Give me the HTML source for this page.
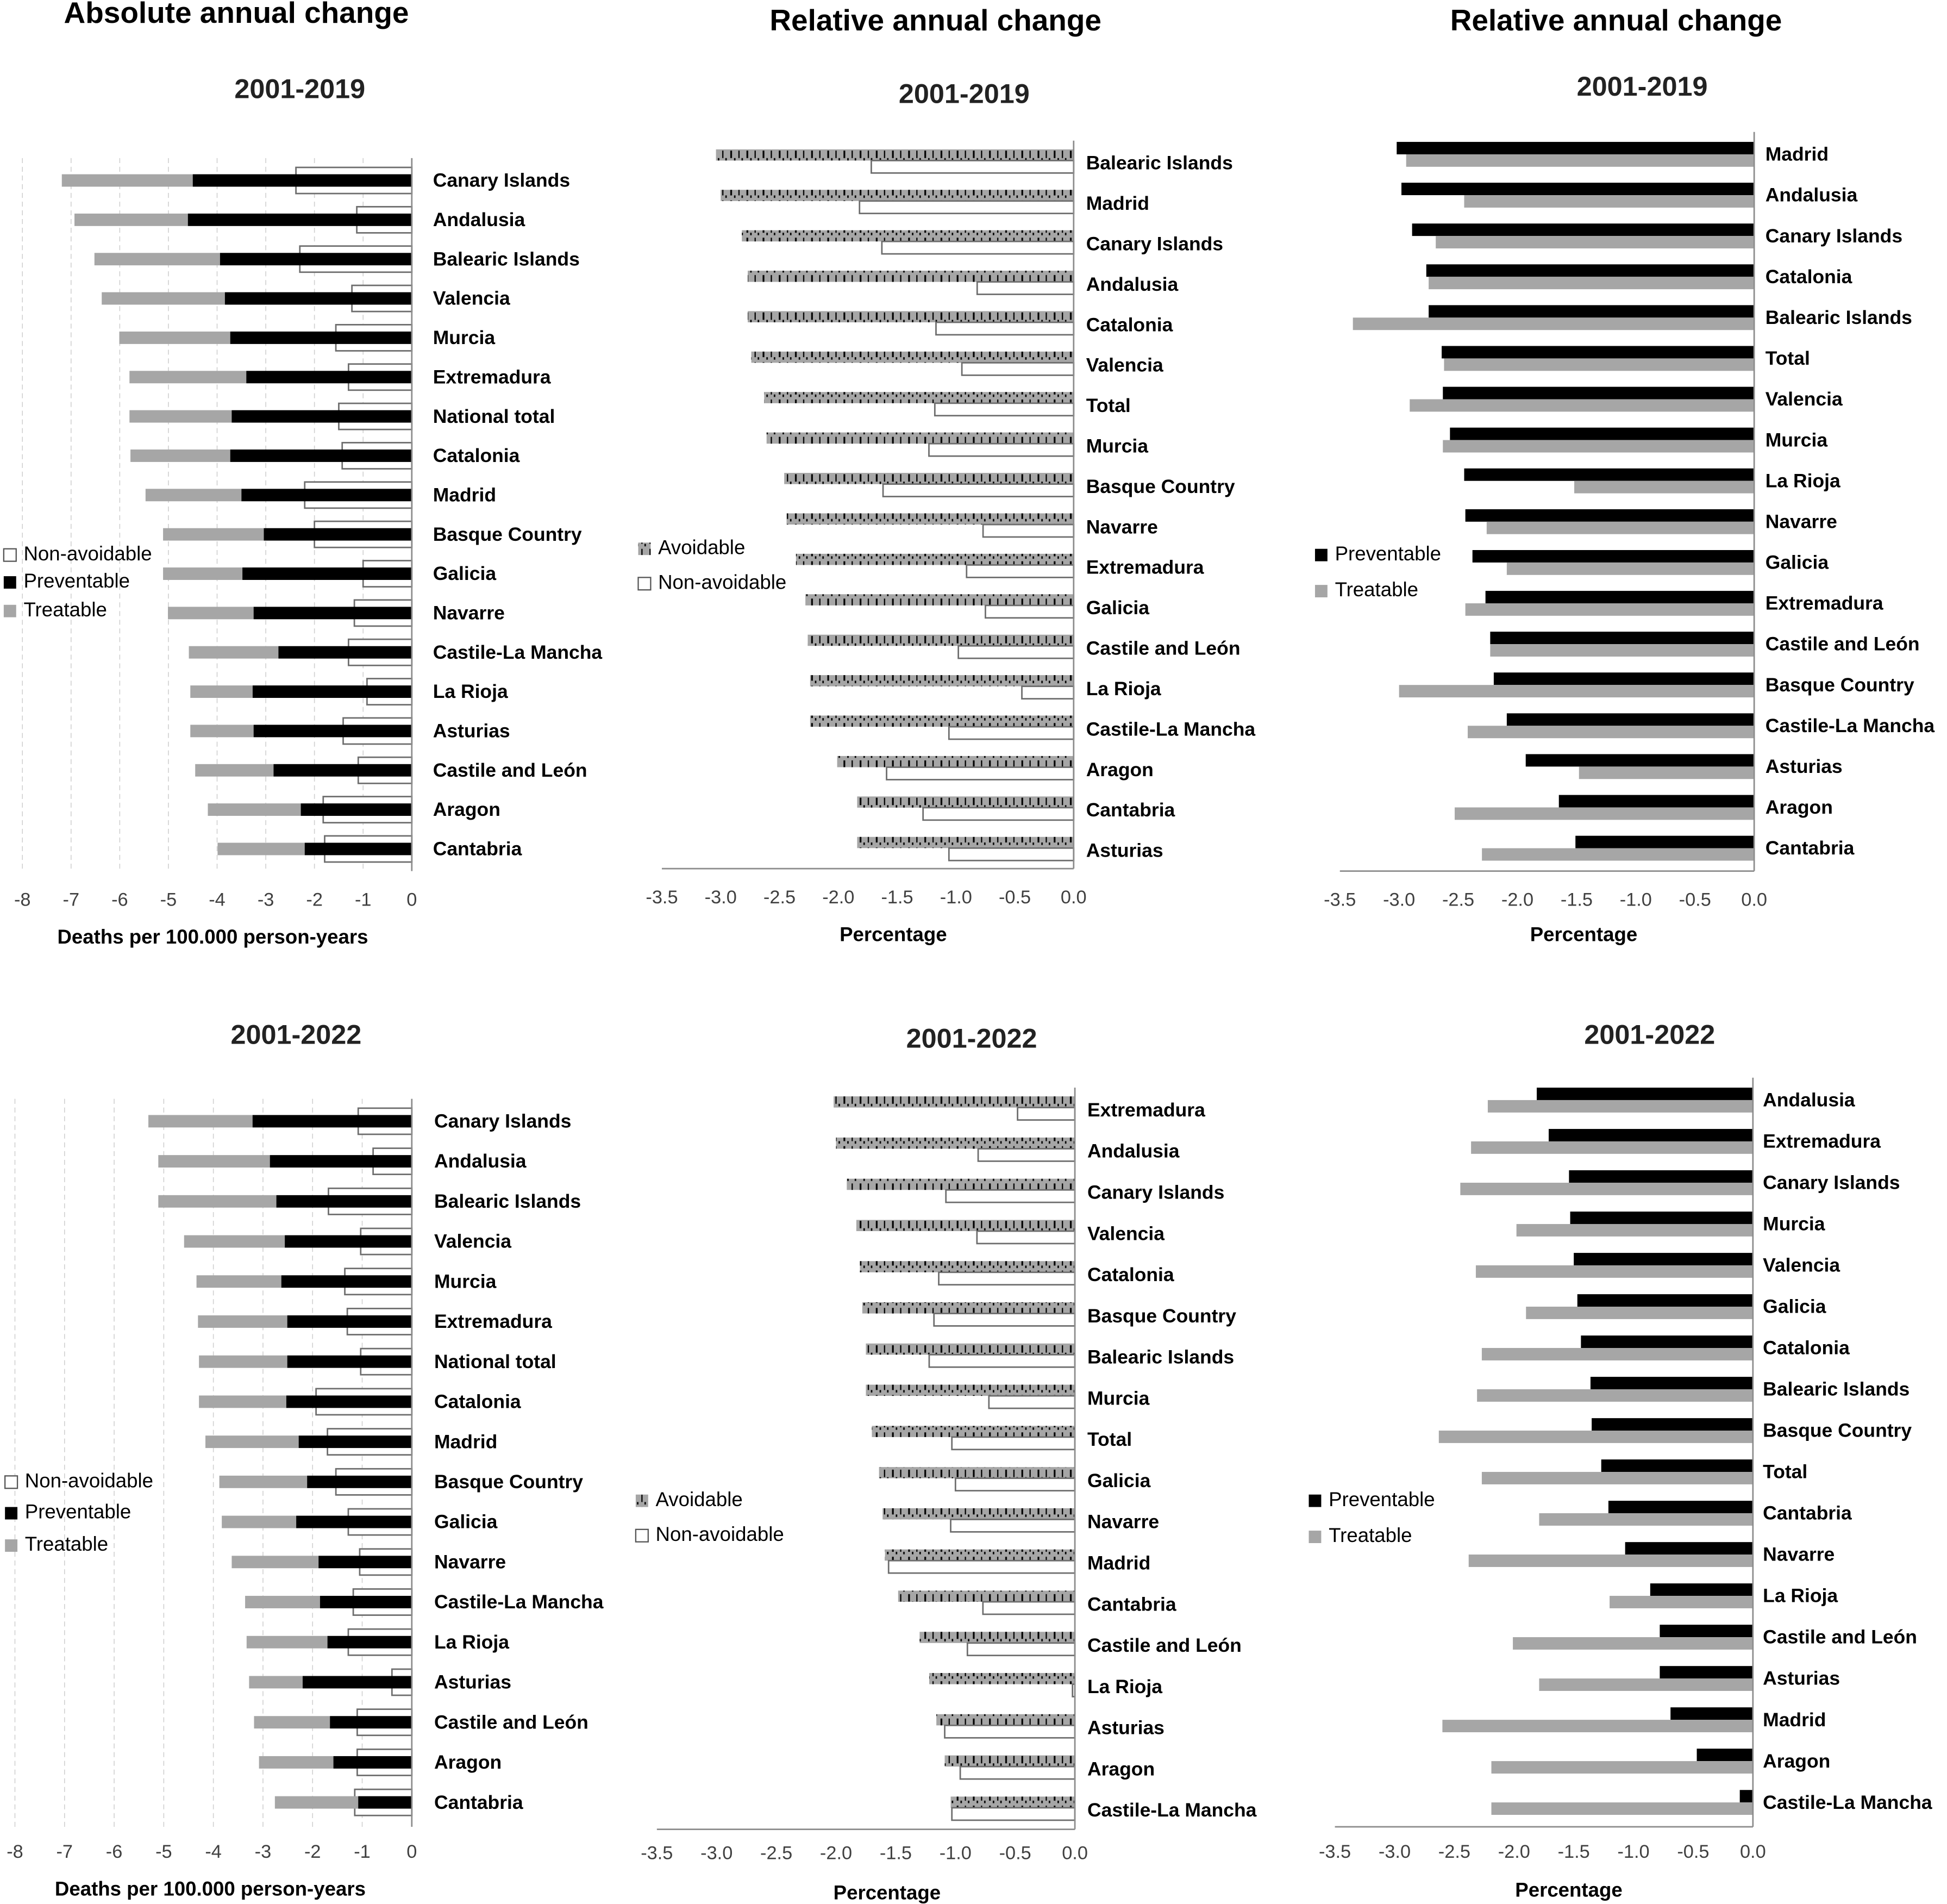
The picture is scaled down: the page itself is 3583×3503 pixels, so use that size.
<!DOCTYPE html>
<html><head><meta charset="utf-8"><style>
html,body{margin:0;padding:0;background:#fff;}
svg{display:block;font-family:"Liberation Sans",sans-serif;}
</style></head><body>
<svg id="fig" width="3583" height="3503" viewBox="0 0 1565 1530" xmlns="http://www.w3.org/2000/svg">
<defs>
<pattern id="hatch" patternUnits="userSpaceOnUse" width="13" height="10">
<rect width="13" height="10" fill="#a6a6a6"/>
<rect x="2" y="1" width="1.4" height="6" fill="#000"/>
<rect x="5" y="7" width="1.2" height="2" fill="#000"/>
<rect x="8.5" y="1" width="1" height="6" fill="#000"/>
<rect x="11" y="7" width="1.2" height="2" fill="#000"/>
</pattern>
</defs>
<g id="root"></g>
</svg>
<script>
// ---- Panel A: absolute 2001-2019
const catsA = ["Canary Islands","Andalusia","Balearic Islands","Valencia","Murcia","Extremadura","National total","Catalonia","Madrid","Basque Country","Galicia","Navarre","Castile-La Mancha","La Rioja","Asturias","Castile and León","Aragon","Cantabria"];
const prevA = [-4.5,-4.6,-3.94,-3.84,-3.73,-3.4,-3.7,-3.73,-3.5,-3.04,-3.48,-3.25,-2.74,-3.27,-3.25,-2.84,-2.28,-2.2];
const treatA = [-2.69,-2.33,-2.58,-2.53,-2.28,-2.4,-2.1,-2.05,-1.97,-2.07,-1.63,-1.76,-1.84,-1.28,-1.3,-1.61,-1.91,-1.79];
const nonavA = [-2.38,-1.13,-2.3,-1.23,-1.56,-1.3,-1.5,-1.43,-2.2,-2.0,-1.0,-1.18,-1.3,-0.92,-1.41,-1.1,-1.82,-1.79];
// ---- Panel D: absolute 2001-2022
const catsD = ["Canary Islands","Andalusia","Balearic Islands","Valencia","Murcia","Extremadura","National total","Catalonia","Madrid","Basque Country","Galicia","Navarre","Castile-La Mancha","La Rioja","Asturias","Castile and León","Aragon","Cantabria"];
const prevD = [-3.21,-2.86,-2.73,-2.56,-2.63,-2.51,-2.51,-2.53,-2.28,-2.11,-2.33,-1.88,-1.85,-1.7,-2.2,-1.65,-1.58,-1.08];
const treatD = [-2.1,-2.25,-2.38,-2.03,-1.71,-1.8,-1.78,-1.76,-1.88,-1.77,-1.5,-1.75,-1.51,-1.63,-1.08,-1.53,-1.5,-1.68];
const nonavD = [-1.08,-0.78,-1.68,-1.03,-1.35,-1.3,-1.03,-1.93,-1.7,-1.53,-1.28,-1.05,-1.18,-1.28,-0.4,-1.1,-1.1,-1.15];
// ---- Panel B: relative 2001-2019 avoidable / non-avoidable
const catsB = ["Balearic Islands","Madrid","Canary Islands","Andalusia","Catalonia","Valencia","Total","Murcia","Basque Country","Navarre","Extremadura","Galicia","Castile and León","La Rioja","Castile-La Mancha","Aragon","Cantabria","Asturias"];
const avoidB = [-3.04,-3.0,-2.82,-2.77,-2.77,-2.74,-2.63,-2.61,-2.46,-2.44,-2.36,-2.28,-2.26,-2.24,-2.24,-2.01,-1.84,-1.84];
const nonavB = [-1.72,-1.82,-1.63,-0.82,-1.17,-0.95,-1.18,-1.23,-1.62,-0.77,-0.91,-0.75,-0.98,-0.44,-1.06,-1.59,-1.28,-1.06];
// ---- Panel E: relative 2001-2022 avoidable / non-avoidable
const catsE = ["Extremadura","Andalusia","Canary Islands","Valencia","Catalonia","Basque Country","Balearic Islands","Murcia","Total","Galicia","Navarre","Madrid","Cantabria","Castile and León","La Rioja","Asturias","Aragon","Castile-La Mancha"];
const avoidE = [-2.02,-2.0,-1.91,-1.83,-1.8,-1.78,-1.75,-1.75,-1.7,-1.64,-1.61,-1.59,-1.48,-1.3,-1.22,-1.16,-1.09,-1.04];
const nonavE = [-0.48,-0.81,-1.08,-0.82,-1.14,-1.18,-1.22,-0.72,-1.03,-1.0,-1.04,-1.56,-0.77,-0.9,-0.02,-1.09,-0.96,-1.03];
// ---- Panel C: relative 2001-2019 preventable / treatable
const catsC = ["Madrid","Andalusia","Canary Islands","Catalonia","Balearic Islands","Total","Valencia","Murcia","La Rioja","Navarre","Galicia","Extremadura","Castile and León","Basque Country","Castile-La Mancha","Asturias","Aragon","Cantabria"];
const prevC = [-3.02,-2.98,-2.89,-2.77,-2.75,-2.64,-2.63,-2.57,-2.45,-2.44,-2.38,-2.27,-2.23,-2.2,-2.09,-1.93,-1.65,-1.51];
const treatC = [-2.94,-2.45,-2.69,-2.75,-3.39,-2.62,-2.91,-2.63,-1.52,-2.26,-2.09,-2.44,-2.23,-3.0,-2.42,-1.48,-2.53,-2.3];
// ---- Panel F: relative 2001-2022 preventable / treatable
const catsF = ["Andalusia","Extremadura","Canary Islands","Murcia","Valencia","Galicia","Catalonia","Balearic Islands","Basque Country","Total","Cantabria","Navarre","La Rioja","Castile and León","Asturias","Madrid","Aragon","Castile-La Mancha"];
const prevF = [-1.81,-1.71,-1.54,-1.53,-1.5,-1.47,-1.44,-1.36,-1.35,-1.27,-1.21,-1.07,-0.86,-0.78,-0.78,-0.69,-0.47,-0.11];
const treatF = [-2.22,-2.36,-2.45,-1.98,-2.32,-1.9,-2.27,-2.31,-2.63,-2.27,-1.79,-2.38,-1.2,-2.01,-1.79,-2.6,-2.19,-2.19];
const ticksAbs = ["-8","-7","-6","-5","-4","-3","-2","-1","0"];
const ticksRel = ["-3.5","-3.0","-2.5","-2.0","-1.5","-1.0","-0.5","0.0"];

const NS="http://www.w3.org/2000/svg";
const root=document.getElementById('root');
function mk(tag,attrs,parent,text){const e=document.createElementNS(NS,tag);for(const k in attrs)e.setAttribute(k,attrs[k]);if(text!==undefined)e.textContent=text;(parent||root).appendChild(e);return e;}
function txt(x,y,s,size,anchor,weight,fill,parent,name){const t=mk('text',{x:x,y:y,'font-size':size,'text-anchor':anchor||'start','font-weight':weight||'normal',fill:fill||'#000','dominant-baseline':'middle'},parent,s);


return t;}

function panel(o){
  const g=mk('g',{});
  
  
  const xs=v=>o.x0+(v-o.min)/(0-o.min)*(o.zero-o.x0);
  const ys=i=>o.y0+i*o.dy;
  const top=ys(0)-18, bot=o.botY;
  if(o.grid){ for(let k=0;k<o.ticks.length-1;k++){const gx=xs(parseFloat(o.ticks[k]));const l=mk('line',{x1:gx,x2:gx,y1:top,y2:bot,stroke:'#d0d0d0','stroke-width':0.7,'stroke-dasharray':'4,3'},g);
    
    }}
  o.cats.forEach((c,i)=>{
    const y=ys(i);
    if(o.type==='abs'){
      const r0=mk('rect',{x:xs(o.c[i]),y:y-10.5,width:o.zero-xs(o.c[i]),height:21,fill:'#fff',stroke:'#6d6d6d','stroke-width':1.2},g);
      
      
      const tot=o.a[i]+o.b[i];
      const r2=mk('rect',{x:xs(tot),y:y-5,width:xs(o.a[i])-xs(tot),height:10,fill:'#a6a6a6'},g);
      
      
      const r1=mk('rect',{x:xs(o.a[i]),y:y-5,width:o.zero-xs(o.a[i]),height:10,fill:'#000'},g);
      
      
    } else if(o.type==='avoid'){
      const r1=mk('rect',{x:xs(o.a[i]),y:y-11,width:o.zero-xs(o.a[i]),height:9,fill:'url(#hatch)'},g);
      
      
      const r2=mk('rect',{x:xs(o.b[i]),y:y-2,width:o.zero-xs(o.b[i]),height:10,fill:'#fff',stroke:'#6d6d6d','stroke-width':1.2},g);
      
      
    } else {
      const r1=mk('rect',{x:xs(o.a[i]),y:y-10,width:o.zero-xs(o.a[i]),height:10,fill:'#000'},g);
      
      
      const r2=mk('rect',{x:xs(o.b[i]),y:y,width:o.zero-xs(o.b[i]),height:10,fill:'#a6a6a6'},g);
      
      
    }
    const lt=txt(o.zero+o.lab,y+1,c,15.5,'start','bold','#000',g,'category-label');
    const w=lt.getComputedTextLength();
    if(w>138){lt.setAttribute('textLength',138);lt.setAttribute('lengthAdjust','spacingAndGlyphs');}
  });
  const ax=mk('line',{x1:o.zero,x2:o.zero,y1:top,y2:bot,stroke:'#8c8c8c','stroke-width':1.2},g);
  
  
  if(!o.grid){const bl=mk('line',{x1:o.x0,x2:o.zero,y1:bot,y2:bot,stroke:'#8c8c8c','stroke-width':1.2},g);
    
    }
  o.ticks.forEach(t=>{txt(xs(parseFloat(t)),o.tickY,t,15,'middle','normal','#404040',g,'x-tick-label');});
  txt(o.xtX,o.xtY,o.xtitle,16,'middle','bold','#000',g,'x-axis-title');
  if(o.title) txt(o.titleX,o.titleY,o.title,24,'middle','bold','#000',g,'panel-title');
  txt(o.subX,o.subY,o.sub,22,'middle','bold','#222',g,'period-title');
  o.legend.forEach((L,k)=>{
    const ly=o.legY[k];
    const sq=mk('rect',{x:o.legX,y:ly-5,width:10,height:10,fill:L[1],stroke:L[2]||'none','stroke-width':1},g);
    
    
    txt(o.legX+16,ly,L[0],16,'start','normal','#000',g,'legend-entry');
  });
}
const legAbs=[["Non-avoidable","#fff","#555"],["Preventable","#000"],["Treatable","#a6a6a6"]];
const legAv=[["Avoidable","url(#hatch)"],["Non-avoidable","#fff","#555"]];
const legPT=[["Preventable","#000"],["Treatable","#a6a6a6"]];
panel({name:'panel-absolute-2001-2019',type:'abs',grid:true,lab:17,cats:catsA,a:prevA,b:treatA,c:nonavA,min:-8,x0:18,zero:331,y0:145,dy:31.6,botY:700,ticks:ticksAbs,tickY:724,xtitle:'Deaths per 100.000 person-years',xtX:171,xtY:754,title:'Absolute annual change',titleX:190,titleY:12,sub:'2001-2019',subX:241,subY:73,legend:legAbs,legX:3,legY:[446,468,491]});
panel({name:'panel-absolute-2001-2022',type:'abs',grid:true,lab:18,cats:catsD,a:prevD,b:treatD,c:nonavD,min:-8,x0:12,zero:331,y0:901,dy:32.2,botY:1468,ticks:ticksAbs,tickY:1489,xtitle:'Deaths per 100.000 person-years',xtX:169,xtY:1519,sub:'2001-2022',subX:238,subY:833,legend:legAbs,legX:4,legY:[1191,1216,1242]});
panel({name:'panel-relative-avoidable-2001-2019',type:'avoid',lab:10,cats:catsB,a:avoidB,b:nonavB,min:-3.5,x0:532,zero:863,y0:131,dy:32.5,botY:698,ticks:ticksRel,tickY:722,xtitle:'Percentage',xtX:718,xtY:752,title:'Relative annual change',titleX:752,titleY:18,sub:'2001-2019',subX:775,subY:77,legend:legAv,legX:513,legY:[441,469]});
panel({name:'panel-relative-avoidable-2001-2022',type:'avoid',lab:10,cats:catsE,a:avoidE,b:nonavE,min:-3.5,x0:528,zero:864,y0:892,dy:33.1,botY:1470,ticks:ticksRel,tickY:1490,xtitle:'Percentage',xtX:713,xtY:1522,sub:'2001-2022',subX:781,subY:836,legend:legAv,legX:511,legY:[1206,1234]});
panel({name:'panel-relative-prev-treat-2001-2019',type:'pt',lab:9,cats:catsC,a:prevC,b:treatC,c:null,min:-3.5,x0:1077,zero:1410,y0:124,dy:32.8,botY:700,ticks:ticksRel,tickY:724,xtitle:'Percentage',xtX:1273,xtY:752,title:'Relative annual change',titleX:1299,titleY:18,sub:'2001-2019',subX:1320,subY:71,legend:legPT,legX:1057,legY:[446,475]});
panel({name:'panel-relative-prev-treat-2001-2022',type:'pt',lab:8,cats:catsF,a:prevF,b:treatF,c:null,min:-3.5,x0:1073,zero:1409,y0:884,dy:33.2,botY:1468,ticks:ticksRel,tickY:1489,xtitle:'Percentage',xtX:1261,xtY:1520,sub:'2001-2022',subX:1326,subY:833,legend:legPT,legX:1052,legY:[1206,1235]});
</script>
</body></html>
